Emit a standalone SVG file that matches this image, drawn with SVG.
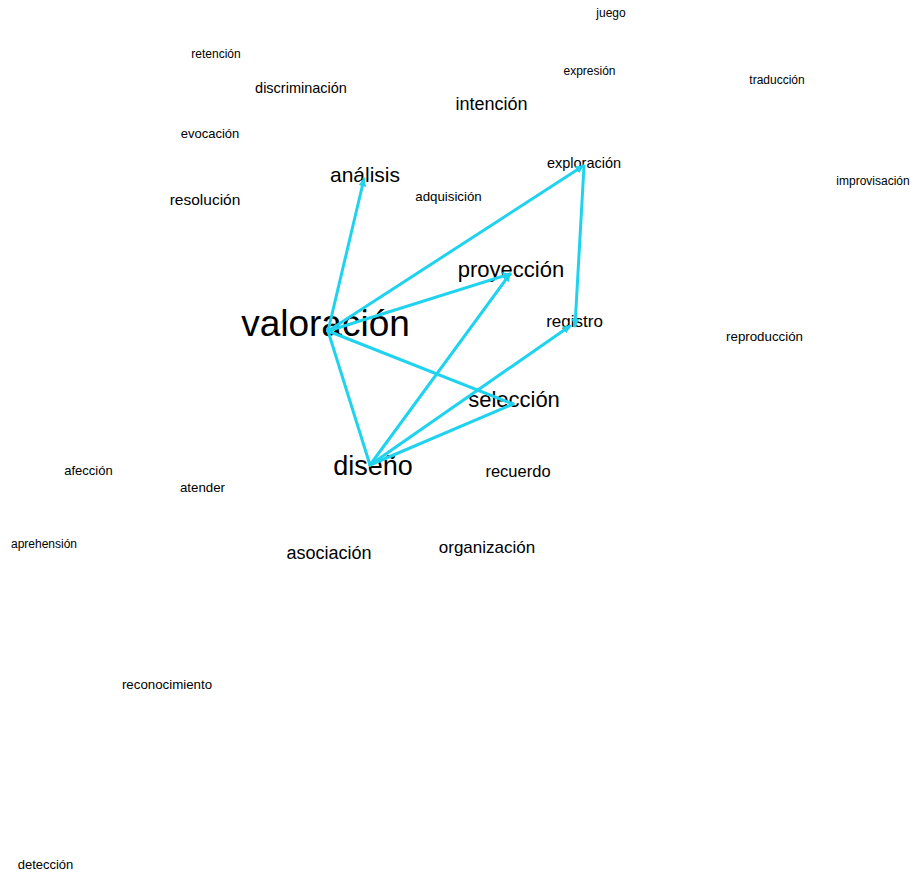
<svg xmlns="http://www.w3.org/2000/svg" width="914" height="875" viewBox="0 0 914 875">
  <style>
    .bg { fill: #ffffff; }
    .lbl { font-family: "Liberation Sans", Arial, sans-serif; fill: #000000; text-anchor: middle; dominant-baseline: central; }
    .edge { stroke: #1fd3ef; stroke-width: 3; fill: none; stroke-linecap: round; }
  </style>
  <defs>
    <marker id="arrow" viewBox="0 0 10 10" refX="9" refY="5" markerWidth="8" markerHeight="8" markerUnits="userSpaceOnUse" orient="auto">
      <path d="M0,0 L10,5 L0,10 Z" fill="#1fd3ef"/>
    </marker>
  </defs>
  <rect class="bg" x="0" y="0" width="914" height="875"/>

  <!-- term nodes -->
  <g id="n-juego"><text class="lbl" x="611" y="13" font-size="12">juego</text></g>
  <g id="n-retencion"><text class="lbl" x="216" y="54" font-size="12">retención</text></g>
  <g id="n-discriminacion"><text class="lbl" x="301" y="87.5" font-size="14.5">discriminación</text></g>
  <g id="n-expresion"><text class="lbl" x="589.5" y="71" font-size="12">expresión</text></g>
  <g id="n-traduccion"><text class="lbl" x="777" y="80" font-size="12">traducción</text></g>
  <g id="n-intencion"><text class="lbl" x="491.5" y="104" font-size="18">intención</text></g>
  <g id="n-evocacion"><text class="lbl" x="210" y="133" font-size="13">evocación</text></g>
  <g id="n-exploracion"><text class="lbl" x="584" y="163" font-size="14.5">exploración</text></g>
  <g id="n-analisis"><text class="lbl" x="365" y="174.5" font-size="21">análisis</text></g>
  <g id="n-improvisacion"><text class="lbl" x="873" y="181" font-size="12">improvisación</text></g>
  <g id="n-resolucion"><text class="lbl" x="205" y="199.5" font-size="15.5">resolución</text></g>
  <g id="n-adquisicion"><text class="lbl" x="448.5" y="196" font-size="13.3">adquisición</text></g>
  <g id="n-proyeccion"><text class="lbl" x="511" y="269" font-size="22">proyección</text></g>
  <g id="n-valoracion"><text class="lbl" x="325.5" y="323" font-size="37">valoración</text></g>
  <g id="n-registro"><text class="lbl" x="574.5" y="321" font-size="17">registro</text></g>
  <g id="n-reproduccion"><text class="lbl" x="764.5" y="336" font-size="13.3">reproducción</text></g>
  <g id="n-seleccion"><text class="lbl" x="514" y="399" font-size="22">selección</text></g>
  <g id="n-diseno"><text class="lbl" x="373" y="466" font-size="27">diseño</text></g>
  <g id="n-afeccion"><text class="lbl" x="88.5" y="470" font-size="13">afección</text></g>
  <g id="n-recuerdo"><text class="lbl" x="518" y="471" font-size="16.5">recuerdo</text></g>
  <g id="n-atender"><text class="lbl" x="202.5" y="487" font-size="13.3">atender</text></g>
  <g id="n-aprehension"><text class="lbl" x="44" y="544" font-size="12">aprehensión</text></g>
  <g id="n-organizacion"><text class="lbl" x="487" y="547" font-size="17">organización</text></g>
  <g id="n-asociacion"><text class="lbl" x="329" y="553" font-size="18">asociación</text></g>
  <g id="n-reconocimiento"><text class="lbl" x="167" y="684" font-size="13.3">reconocimiento</text></g>
  <g id="n-deteccion"><text class="lbl" x="45.5" y="864" font-size="13">detección</text></g>

  <!-- connectors, drawn above the labels -->
  <g id="edges">
    <line class="edge" x1="328" y1="331" x2="364" y2="179" marker-end="url(#arrow)"/>
    <line class="edge" x1="328" y1="331" x2="583" y2="166" marker-end="url(#arrow)"/>
    <line class="edge" x1="328" y1="331" x2="510" y2="274" marker-end="url(#arrow)"/>
    <line class="edge" x1="328" y1="331" x2="513" y2="404"/>
    <line class="edge" x1="370" y1="465" x2="328" y2="331"/>
    <line class="edge" x1="584" y1="166" x2="575" y2="326" marker-end="url(#arrow)"/>
    <line class="edge" x1="370" y1="465" x2="510" y2="274" marker-end="url(#arrow)"/>
    <line class="edge" x1="370" y1="465" x2="570" y2="326" marker-end="url(#arrow)"/>
    <line class="edge" x1="370" y1="465" x2="513" y2="404"/>
  </g>
</svg>
